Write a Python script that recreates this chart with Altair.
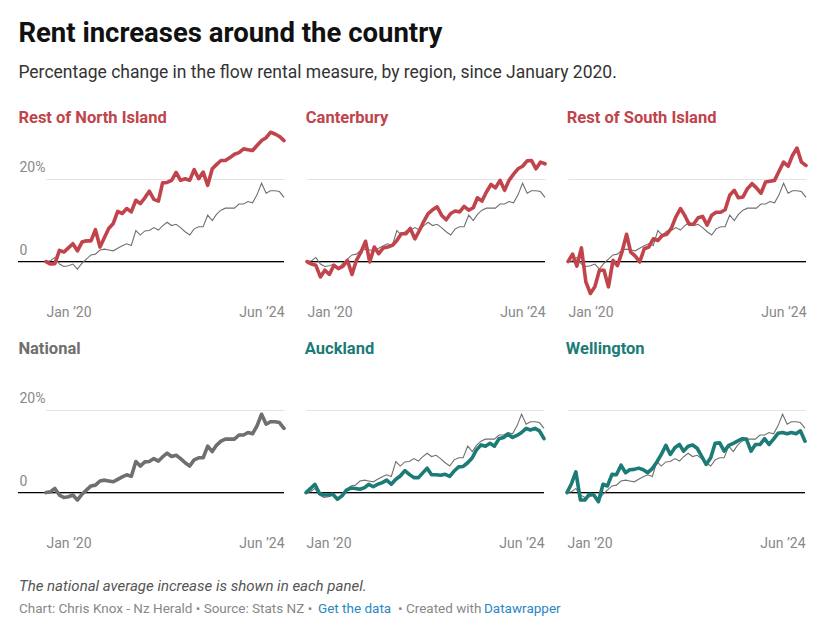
import altair as alt
import pandas as pd

# ---------------- data ----------------
months = pd.date_range("2020-01-01", periods=54, freq="MS")

national = [0, 0.2, 1.0, -0.6, -1.2, -1.0, -0.6, -1.8, -0.4, 0.6,
            1.6, 1.8, 2.8, 3.0, 2.8, 2.6, 3.2, 3.8, 4.3, 3.9,
            7.5, 6.4, 7.4, 7.5, 8.2, 7.6, 8.6, 9.5, 8.7, 9.0,
            8.2, 7.2, 6.4, 7.9, 8.4, 8.4, 11.2, 9.9, 11.4, 12.4,
            12.9, 12.9, 12.9, 13.9, 13.9, 14.5, 14.2, 16.1, 18.9, 16.5,
            17.1, 17.1, 16.9, 15.5]

rest_north = [0, -0.6, -0.5, 2.7, 2.3, 3.3, 4.3, 2.6, 4.7, 5.0,
              5.0, 7.7, 3.5, 5.9, 8.0, 9.2, 12.1, 11.6, 12.8, 12.0,
              14.8, 14.0, 15.4, 17.0, 15.0, 14.6, 19.0, 19.1, 19.6, 21.5,
              19.6, 20.0, 19.6, 22.2, 20.0, 21.6, 18.4, 22.4, 23.4, 24.4,
              24.4, 25.1, 25.9, 26.3, 27.2, 27.0, 26.8, 28.0, 29.2, 29.9,
              31.2, 30.8, 30.2, 29.2]

canterbury = [0, -0.6, -0.9, -3.7, -2.1, -3.1, -0.9, -1.7, -1.1, 0.3,
              -3.1, 0.3, 2.3, 4.9, -0.1, 3.5, 1.9, 3.3, 3.5, 3.9,
              5.1, 6.7, 6.7, 8.0, 5.5, 7.5, 9.6, 11.6, 12.5, 13.2,
              11.2, 10.1, 11.6, 12.2, 12.0, 13.3, 12.4, 13.0, 15.4, 14.6,
              16.8, 18.6, 17.8, 19.6, 17.2, 19.6, 21.1, 22.4, 23.0, 24.3,
              24.4, 22.4, 24.0, 23.6]

rest_south = [0, 1.8, -1.1, 3.3, -4.9, -7.7, -6.1, -2.1, -2.1, -6.1,
              0.3, -1.0, 2.3, 6.6, 2.3, 1.3, -0.1, 3.1, 3.5, 5.5,
              5.1, 6.3, 6.6, 8.0, 10.8, 12.8, 11.2, 9.0, 9.0, 10.6,
              10.9, 8.8, 11.2, 11.9, 11.9, 12.5, 16.0, 17.2, 15.4, 15.6,
              17.6, 18.8, 17.8, 16.5, 19.2, 19.4, 19.6, 21.8, 24.0, 23.0,
              25.6, 27.4, 24.0, 23.2]

auckland = [0, 1.0, 2.0, -0.2, -0.6, -0.6, -0.4, -1.6, -0.8, 0.6,
            1.1, 1.0, 0.8, 1.2, 2.0, 1.4, 2.0, 2.4, 3.0, 2.0,
            3.2, 4.0, 5.3, 4.4, 3.6, 3.6, 4.7, 5.9, 4.3, 4.3,
            4.2, 4.4, 3.9, 5.2, 6.2, 6.3, 7.2, 8.4, 10.3, 11.5,
            11.2, 11.9, 11.2, 13.0, 13.3, 14.1, 13.3, 13.8, 14.5, 15.5,
            15.1, 15.5, 14.9, 13.0]

wellington = [0, 2.2, 5.0, -1.8, -1.8, -0.4, -0.6, -2.2, 2.0, 1.6,
              4.4, 4.3, 6.6, 4.8, 5.5, 5.6, 5.9, 5.5, 4.8, 5.8,
              7.4, 9.2, 11.4, 9.2, 10.8, 11.6, 10.0, 11.2, 11.5, 10.7,
              8.8, 6.8, 8.4, 11.9, 12.0, 10.0, 11.4, 11.9, 12.4, 13.0,
              12.9, 10.0, 11.6, 11.6, 13.0, 11.6, 12.9, 14.3, 14.5, 14.2,
              14.5, 14.2, 14.9, 12.4]

panel_names = ["Rest of North Island", "Canterbury", "Rest of South Island",
               "National", "Auckland", "Wellington"]
panel_series = [rest_north, canterbury, rest_south, national, auckland, wellington]
y_ticks = [0, 20]

title_text = "Rent increases around the country"
subtitle_text = "Percentage change in the flow rental measure, by region, since January 2020."
note_text = "The national average increase is shown in each panel."
credit_a = "Chart: Chris Knox - Nz Herald \u2022 Source: Stats NZ \u2022"
credit_link1 = "Get the data"
credit_b = "\u2022 Created with"
credit_link2 = "Datawrapper"

# ---------------- styles ----------------
RED = "#c1434b"
TEAL = "#1b7b76"
GREY = "#6f6f6f"
panel_colors = [RED, RED, RED, GREY, TEAL, TEAL]
FONT = "Roboto"
PANEL_H = 174


def make_panel(name, values, color, col):
    first = col == 0
    w = 266 if first else 238
    df = pd.DataFrame({"date": months, "region": values, "national": national})
    dom = [alt.DateTime(year=2020, month=1, date=1), alt.DateTime(year=2024, month=6, date=1)]
    if first:
        xs = alt.Scale(domain=dom, nice=False, range=[28, w])
    else:
        xs = alt.Scale(domain=dom, nice=False)
    xax = alt.Axis(values=dom, format="%b \u2019%y", labelFlush=True, grid=False,
                   ticks=False, tickSize=0, domain=False, labelPadding=2,
                   labelFontSize=14, labelColor="#888888", labelFont=FONT, title=None)
    ys = alt.Scale(domain=[-10, 32], nice=False, zero=False)
    if first:
        yax = alt.Axis(values=y_ticks, labelExpr="datum.value == 0 ? '0' : datum.value + '%'",
                       labelAlign="left", labelBaseline="alphabetic", labelPadding=-1,
                       labelOffset=-7, ticks=False, tickSize=0, domain=False, grid=True,
                       gridColor="#e3e3e3", labelColor="#888888", labelFontSize=14,
                       labelFont=FONT, title=None)
    else:
        yax = alt.Axis(values=y_ticks, labels=False, ticks=False, tickSize=0, domain=False,
                       grid=True, gridColor="#e3e3e3", title=None)
    X = alt.X("date:T", scale=xs, axis=xax)
    base = alt.Chart(df)
    zero = alt.Chart(pd.DataFrame({"v": [0]})).mark_rule(color="#000000", strokeWidth=1.2).encode(
        y=alt.Y("v:Q", scale=ys, axis=yax))
    layers = [zero]
    if name != "National":
        layers.append(base.mark_line(color="#707070", strokeWidth=1.1).encode(
            x=X, y=alt.Y("national:Q", scale=ys, axis=yax)))
    layers.append(base.mark_line(color=color, strokeWidth=3.6, strokeJoin="round",
                                 strokeCap="round").encode(
        x=X, y=alt.Y("region:Q", scale=ys, axis=yax)))
    return alt.layer(*layers).properties(
        width=w, height=PANEL_H,
        title=alt.TitleParams(name, anchor="start", color=color, fontSize=16.5, font=FONT,
                              fontWeight="bold", offset=3, dx=1))


panels = [make_panel(n, s, c, i % 3) for i, (n, s, c) in
          enumerate(zip(panel_names, panel_series, panel_colors))]
row1 = alt.hconcat(*panels[:3], spacing=17)
row2 = alt.hconcat(*panels[3:], spacing=17)
grid = alt.vconcat(row1, row2, spacing=21)

one = pd.DataFrame({"a": [0]})


def txt(text, x, y, color, size, style="normal"):
    return alt.Chart(one).mark_text(text=text, align="left", baseline="alphabetic",
                                    font=FONT, fontSize=size, color=color,
                                    fontStyle=style).encode(x=alt.value(x), y=alt.value(y))


footer = alt.layer(
    txt(note_text, 1, 14, "#555555", 15, "italic"),
    txt(credit_a, 1, 36, "#888888", 13.5),
    txt(credit_link1, 300, 36, "#2a87c2", 13.5),
    txt(credit_b, 380, 36, "#888888", 13.5),
    txt(credit_link2, 466, 36, "#2a87c2", 13.5),
).properties(width=786, height=40)

chart = alt.vconcat(grid, footer, spacing=27).properties(
    title=alt.TitleParams(title_text, subtitle=subtitle_text, anchor="start", font=FONT,
                          fontSize=27.5, fontWeight="bold", color="#111111",
                          subtitleFont=FONT, subtitleFontSize=17.5, subtitleColor="#333333",
                          subtitlePadding=17, offset=28, dx=1),
    padding={"left": 9, "top": 11, "right": 5, "bottom": 5},
).configure(font=FONT, background="white").configure_view(stroke="transparent", strokeWidth=0)

chart.save("out.html", embed_options={"renderer": "svg", "actions": False})
